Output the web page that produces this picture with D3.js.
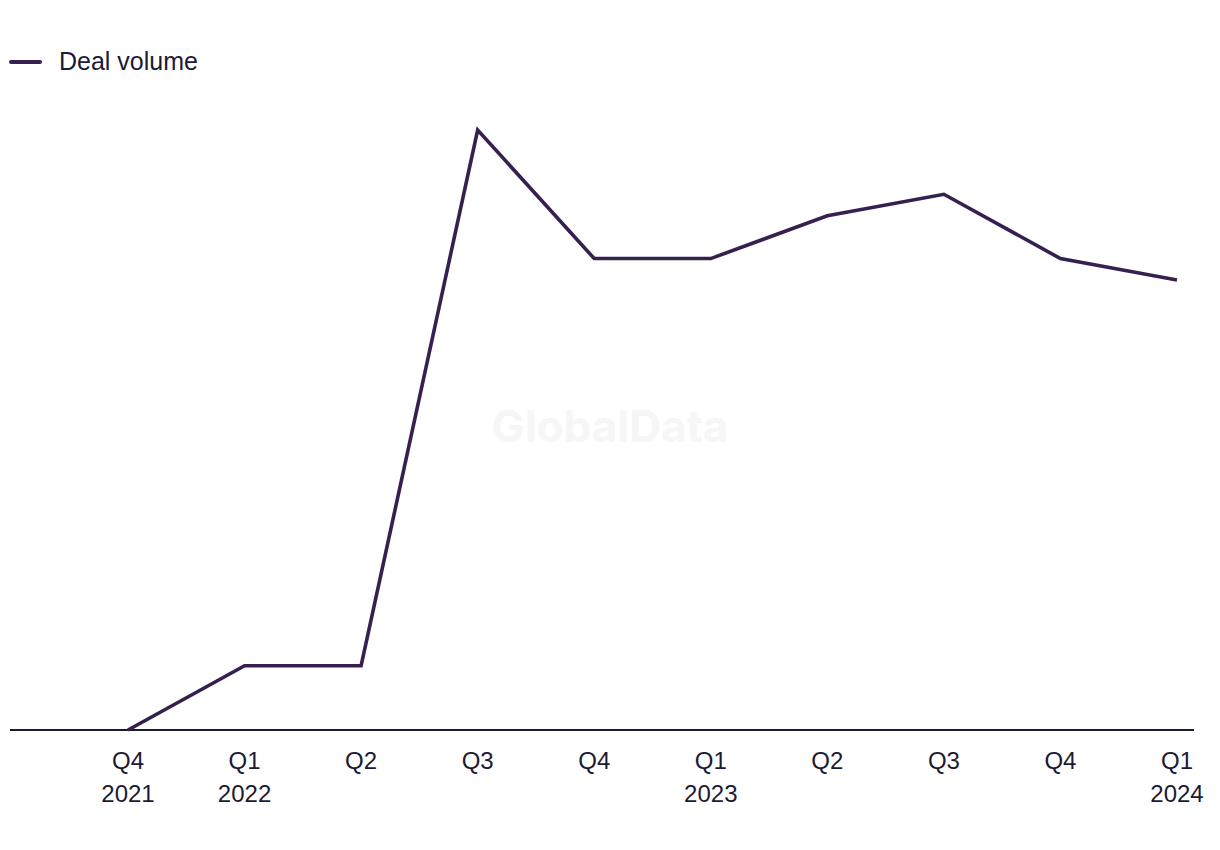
<!DOCTYPE html>
<html>
<head>
  <meta charset="utf-8">
  <script src="https://d3js.org/d3.v7.min.js"></script>
  <style>
  body { margin: 0; background: #fff; }
  text { font-family: "Liberation Sans", Arial, sans-serif; fill: #1c1a33; }
  .tick text { font-size: 24px; }
  </style>
</head>
<body>
<script>
// quarters, with the year shown under the first quarter of each year
var quarters = ['Q4', 'Q1', 'Q2', 'Q3', 'Q4', 'Q1', 'Q2', 'Q3', 'Q4', 'Q1'];
var years = ['2021', '2022', '', '', '', '2023', '', '', '', '2024'];
var dealVolume = [0, 3, 3, 28, 22, 22, 24, 25, 22, 21];

var width = 1220, height = 850;

var svg = d3.select('body').append('svg')
  .attr('width', width)
  .attr('height', height);

var ids = d3.range(quarters.length);

var x = d3.scalePoint()
  .domain(ids)
  .range([128, 1177]);

var y = d3.scaleLinear()
  .domain([0, 28])
  .range([730, 130]);

// watermark
svg.append('text')
  .attr('x', 610)
  .attr('y', 442)
  .attr('text-anchor', 'middle')
  .style('font-family', 'Inter, sans-serif')
  .style('font-size', '44px')
  .style('font-weight', 'bold')
  .style('fill', '#f6f6f7')
  .text('GlobalData');

// baseline
svg.append('line')
  .attr('x1', 10).attr('x2', 1194)
  .attr('y1', y(0)).attr('y2', y(0))
  .attr('stroke', '#1c1a33')
  .attr('stroke-width', 2);

// x labels, two lines each
var xAxis = svg.append('g')
  .attr('transform', 'translate(0,' + y(0) + ')');

var lab = xAxis.selectAll('g.tick')
  .data(ids)
  .enter().append('g')
    .attr('class', 'tick')
    .attr('transform', function(d) { return 'translate(' + x(d) + ',0)'; });

lab.append('text')
  .attr('y', 39)
  .attr('text-anchor', 'middle')
  .text(function(d) { return quarters[d]; });

lab.append('text')
  .attr('y', 72)
  .attr('text-anchor', 'middle')
  .text(function(d) { return years[d]; });

// the line
var line = d3.line()
  .x(function(d) { return x(d); })
  .y(function(d) { return y(dealVolume[d]); });

svg.append('path')
  .datum(ids)
  .attr('d', line)
  .attr('fill', 'none')
  .attr('stroke', '#35204f')
  .attr('stroke-width', 3.6)
  .attr('stroke-linejoin', 'miter');

// legend
var legend = svg.append('g')
  .attr('transform', 'translate(10,62)');

legend.append('line')
  .attr('x1', 1).attr('x2', 30)
  .attr('stroke', '#35204f')
  .attr('stroke-width', 4)
  .attr('stroke-linecap', 'round');

legend.append('text')
  .attr('x', 49)
  .attr('y', 8)
  .style('font-size', '25px')
  .text('Deal volume');
</script>
</body>
</html>
